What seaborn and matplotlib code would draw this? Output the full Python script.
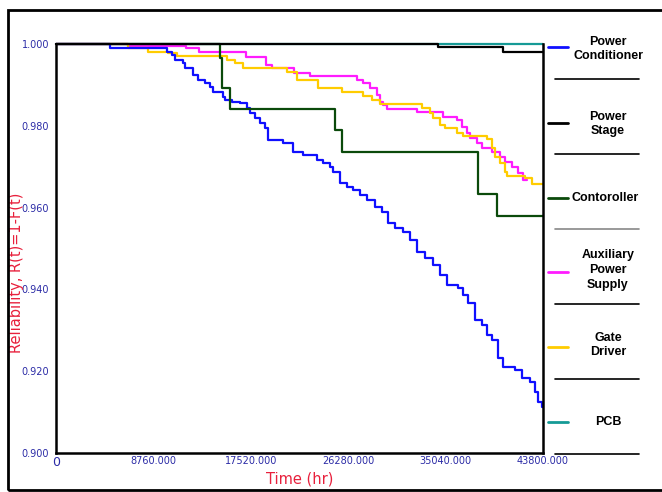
import pandas as pd
import matplotlib.pyplot as plt
import seaborn as sns
from matplotlib.lines import Line2D
from matplotlib.patches import Rectangle

# step curves (time in hr, reliability)
t_cond = [0, 4860, 9980, 10430, 10700, 11420, 11600, 12320, 12770, 13400, 13850, 14120,
          15020, 15200, 15830, 16550, 17180, 17450, 17900, 18350, 18800, 19070, 20420,
          21320, 22220, 23470, 24010, 24640, 24910, 25540, 26170, 26710, 27340, 27970,
          28690, 29320, 29860, 30490, 31210, 31840, 32470, 33190, 33910, 34540, 35170,
          36160, 36610, 37060, 37690, 38310, 38760, 39210, 39750, 40200, 41280, 41910,
          42630, 43080, 43350, 43710, 43800]
r_cond = [1.0, 0.99895, 0.99812, 0.99731, 0.99609, 0.99528, 0.99406, 0.99242, 0.9912,
          0.99039, 0.98956, 0.98834, 0.98711, 0.98631, 0.98589, 0.9855, 0.98428, 0.98306,
          0.98183, 0.98061, 0.97939, 0.97653, 0.97572, 0.97367, 0.97286, 0.97164, 0.97091,
          0.96993, 0.96878, 0.96594, 0.96511, 0.9643, 0.96308, 0.96186, 0.96022, 0.959,
          0.95616, 0.95494, 0.95411, 0.95208, 0.94922, 0.9476, 0.94597, 0.94352, 0.94107,
          0.94027, 0.93863, 0.9366, 0.93252, 0.9313, 0.92885, 0.92763, 0.92315, 0.9211,
          0.92029, 0.91826, 0.91743, 0.91499, 0.91254, 0.91132, 0.91132]

t_stage = [0, 34360, 40200, 43800]
r_stage = [1.0, 0.99934, 0.99812, 0.99812]

t_ctrl = [0, 14750, 14900, 15650, 25090, 25700, 37980, 39690, 43800]
r_ctrl = [1.0, 0.9965, 0.98917, 0.98411, 0.97897, 0.97367, 0.96325, 0.95795, 0.95795]

t_aux = [0, 6500, 11700, 12900, 17090, 18890, 19460, 21410, 22860, 27050, 27640, 28240,
         28840, 29140, 29440, 29740, 32440, 34840, 36040, 36490, 36940, 37240, 37840,
         38290, 39190, 39940, 40390, 40990, 41590, 42040, 42340]
r_aux = [1.0, 0.99963, 0.99895, 0.99812, 0.9969, 0.99487, 0.99406, 0.99298, 0.99218,
         0.9912, 0.99039, 0.98917, 0.98753, 0.98589, 0.98508, 0.98411, 0.9833, 0.98223,
         0.98142, 0.97978, 0.97816, 0.97694, 0.97572, 0.97449, 0.97367, 0.97244, 0.97122,
         0.97, 0.96838, 0.96675, 0.96675]

t_gate = [0, 6500, 8300, 10100, 10850, 15350, 16100, 16850, 20750, 21650, 23590, 25690,
          27640, 28390, 29140, 32890, 33640, 33940, 34540, 34990, 36040, 36640, 38740,
          39190, 39490, 39940, 40390, 40540, 42190, 42790, 43800]
r_gate = [1.0, 0.99895, 0.99812, 0.99772, 0.99706, 0.99609, 0.99528, 0.99406, 0.99323,
          0.9912, 0.98917, 0.98834, 0.98736, 0.98631, 0.98533, 0.98428, 0.98306, 0.98183,
          0.9802, 0.97939, 0.97831, 0.9775, 0.9767, 0.97449, 0.97244, 0.97083, 0.96878,
          0.96773, 0.96716, 0.96577, 0.96577]

t_pcb = [0, 43800]
r_pcb = [1.0, 1.0]

names = ['Power Conditioner', 'Power Stage', 'Contoroller',
         'Auxiliary Power Supply', 'Gate Driver', 'PCB']
colors = ['#1010ff', '#000000', '#0b4a0b', '#ff1cff', '#ffcc00', '#159a96']
series = [(t_cond, r_cond), (t_stage, r_stage), (t_ctrl, r_ctrl),
          (t_aux, r_aux), (t_gate, r_gate), (t_pcb, r_pcb)]

frames = []
for name, (t, r) in zip(names, series):
    frames.append(pd.DataFrame({'t': t, 'R': r, 'component': name}))
df = pd.concat(frames, ignore_index=True)

draw_order = ['PCB', 'Auxiliary Power Supply', 'Gate Driver', 'Power Conditioner',
              'Contoroller', 'Power Stage']
palette = dict(zip(names, colors))

sns.set_style('white')
plt.rcParams['font.family'] = ['DejaVu Sans']
plt.rcParams['text.color'] = 'black'

fig = plt.figure(figsize=(6.62, 4.92), dpi=100)
ax = fig.add_axes([56 / 662, 1 - 453 / 492, 487 / 662, 409 / 492])

sns.lineplot(data=df, x='t', y='R', hue='component', hue_order=draw_order,
             palette=palette, drawstyle='steps-post', estimator=None, sort=False,
             linewidth=1.6, legend=False, ax=ax)
for ln in ax.lines:
    ln.set_clip_on(False)

ax.set_xlim(0, 43800)
ax.set_ylim(0.9, 1.0)
ax.set_xticks([0, 8760, 17520, 26280, 35040, 43800])
ax.set_xticklabels(['0', '8760.000', '17520.000', '26280.000', '35040.000', '43800.000'])
ax.set_yticks([0.90, 0.92, 0.94, 0.96, 0.98, 1.00])
ax.set_yticklabels(['0.900', '0.920', '0.940', '0.960', '0.980', '1.000'])
ax.tick_params(axis='x', direction='in', length=4, color='#f08080', labelsize=7,
               labelcolor='#2b2ba6', pad=2)
ax.tick_params(axis='y', direction='out', length=4, color='#f08080', labelsize=7,
               labelcolor='#2b2ba6', pad=1)
ax.get_xticklabels()[0].set_fontsize(9)

for side in ['left', 'bottom', 'right']:
    ax.spines[side].set_color('black')
    ax.spines[side].set_linewidth(1.8)
ax.spines['top'].set_visible(False)

ax.set_xlabel('Time (hr)', color='#e8203c', fontsize=10.5)
ax.set_ylabel('Reliability, R(t)=1-F(t)', color='#e8203c', fontsize=10.5)
ax.xaxis.set_label_coords(0.5, -0.045)
ax.yaxis.set_label_coords(-0.066, 0.44)

# right-hand key
W, H = 662, 492
key_labels = ['Power\nConditioner', 'Power\nStage', 'Contoroller',
              'Auxiliary\nPower\nSupply', 'Gate\nDriver', 'PCB']
key_y = [47, 123, 198, 272, 347, 422]
text_y = [49, 124, 198, 270, 345, 422]
for lab, y, ty, c in zip(key_labels, key_y, text_y, colors):
    fig.add_artist(Line2D([548 / W, 568 / W], [1 - y / H, 1 - y / H], color=c, lw=2))
    if lab == 'Contoroller':
        fig.text(571 / W, 1 - ty / H, lab, ha='left', va='center', fontsize=9,
                 fontweight='bold', family='Liberation Sans', color='black')
    else:
        fig.text(608 / W, 1 - ty / H, lab, ha='center', va='center', fontsize=9,
                 fontweight='bold', family='Liberation Sans', linespacing=1.3,
                 color='black')
for i, y in enumerate([79, 154, 229, 304, 379, 454]):
    c = '#888888' if i == 2 else 'black'
    fig.add_artist(Line2D([555 / W, 639 / W], [1 - y / H, 1 - y / H], color=c, lw=1.2))

# outer frame (its right side runs off the image)
fig.add_artist(Rectangle((8 / W, 2.5 / H), 700 / W, 480 / H, fill=False,
                         edgecolor='black', lw=2, transform=fig.transFigure))

fig.savefig('out.png', dpi=100)
